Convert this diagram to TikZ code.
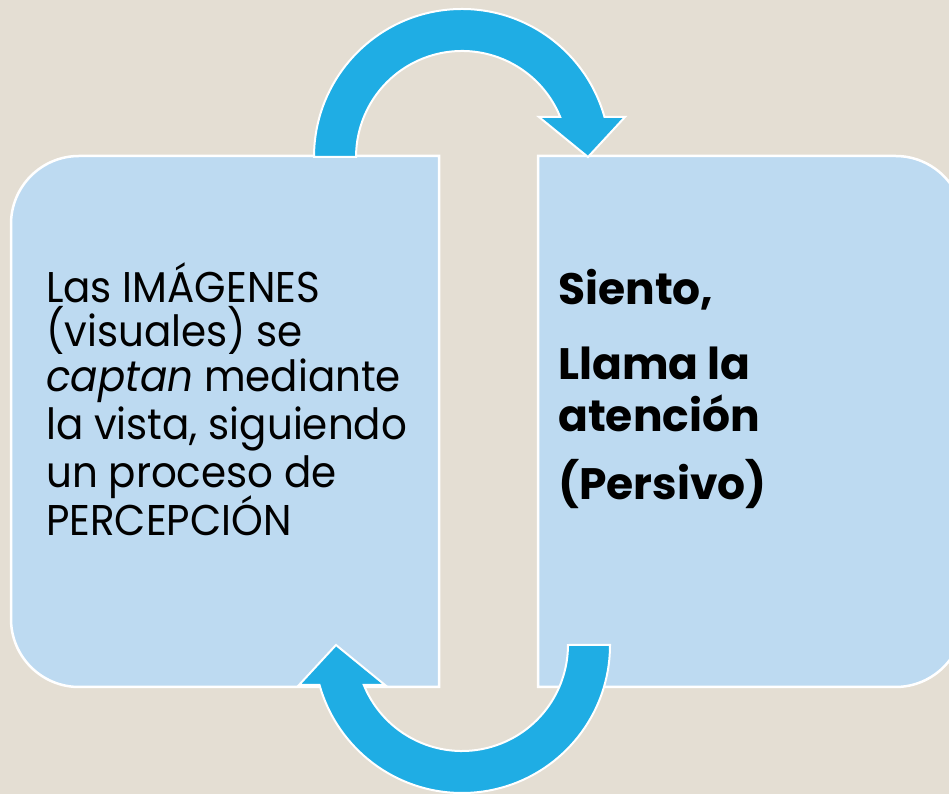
\documentclass[tikz,border=0pt]{standalone}
\usepackage{fontspec}
\setmainfont{Poppins}
\newfontfamily\leftfont{Poppins}[FakeStretch=0.94]
\definecolor{bgc}{HTML}{E4DED3}
\definecolor{boxc}{HTML}{BDDAF1}
\definecolor{arrc}{HTML}{1FADE4}
\tikzset{
  panel/.style={fill=boxc, draw=white, line width=2.5pt},
  cyc/.style={fill=arrc, draw=white, line width=2pt, line join=miter},
  ltxt/.style={anchor=base west, inner sep=0pt, font=\leftfont\fontsize{43}{46}\selectfont},
  rtxt/.style={anchor=base west, inner sep=0pt, font=\fontsize{44}{48}\selectfont\bfseries}
}
\begin{document}
\begin{tikzpicture}[x=1pt,y=1pt]
\fill[bgc] (0,0) rectangle (949,794);
\useasboundingbox (0,0) rectangle (949,794);
\clip (0,0) rectangle (949,794);
% left panel
\draw[panel] (439,638) -- (79,638) arc[start angle=90,end angle=180,radius=68]
  -- (11,175) arc[start angle=180,end angle=270,radius=68] -- (439,107) -- cycle;
% right panel
\draw[panel] (538,638) -- (895.5,638) arc[start angle=90,end angle=0,radius=68]
  -- (963.5,175) arc[start angle=0,end angle=-90,radius=68] -- (538,107) -- cycle;
% top cycle arrow
\draw[cyc] (314,637) arc[start angle=180,end angle=15.68,radius=148]
  -- (625,677) -- (588,637) -- (539,677) -- (560.2,677)
  arc[start angle=22.17,end angle=180,radius=106] -- cycle;
% bottom cycle arrow
\draw[cyc] (610,149) arc[start angle=0,end angle=-164.32,radius=148]
  -- (299,109) -- (336,149) -- (385,109) -- (363.8,109)
  arc[start angle=-157.83,end angle=0,radius=106] -- cycle;
% left text
\node[ltxt] (l1) at (46,794-303) {Las IMÁGENES};
\node[ltxt] (l2) at (46,794-347) {(visuales) se};
\node[ltxt] (l3) at (46,794-392) {\textit{captan} mediante};
\node[ltxt] (l4) at (46,794-440) {la vista, siguiendo};
\node[ltxt] (l5) at (46,794-488) {un proceso de};
\node[ltxt] (l6) at (46,794-536) {PERCEPCIÓN};
% right text
\node[rtxt] (r1) at (558,794-305) {Siento,};
\node[rtxt] (r2) at (558,794-380) {Llama la};
\node[rtxt] (r3) at (558,794-432) {atención};
\node[rtxt] (r4) at (558,794-500) {(Persivo)};
\end{tikzpicture}
\end{document}
